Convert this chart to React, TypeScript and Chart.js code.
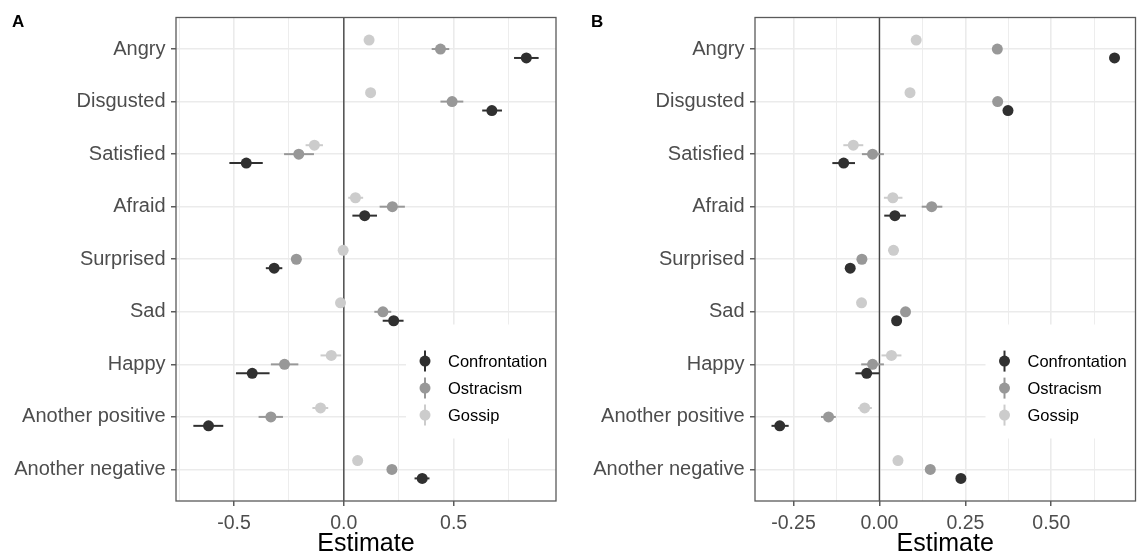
import React, { useEffect, useRef } from "react";
import { Chart, registerables } from "chart.js";

Chart.register(...registerables);

const FONT = "'Liberation Sans', Arial, Helvetica, sans-serif";
Chart.defaults.font.family = FONT;

// ---------- data ----------
const categories = [
  "Angry",
  "Disgusted",
  "Satisfied",
  "Afraid",
  "Surprised",
  "Sad",
  "Happy",
  "Another positive",
  "Another negative",
];
const seriesNames = ["Confrontation", "Ostracism", "Gossip"];
const seriesColors = ["#303030", "#989898", "#CCCCCC"];
const dodgeOffsets = [0.17, 0, -0.17];

// Panel A
const confA = [0.831, 0.674, -0.444, 0.095, -0.317, 0.227, -0.417, -0.616, 0.357];
const confALo = [0.775, 0.63, -0.521, 0.039, -0.355, 0.177, -0.491, -0.685, 0.322];
const confAHi = [0.887, 0.72, -0.369, 0.151, -0.28, 0.272, -0.338, -0.549, 0.39];
const ostA = [0.44, 0.493, -0.205, 0.221, -0.216, 0.178, -0.27, -0.332, 0.219];
const ostALo = [0.4, 0.44, -0.272, 0.163, -0.235, 0.139, -0.332, -0.388, 0.205];
const ostAHi = [0.48, 0.544, -0.136, 0.278, -0.197, 0.216, -0.207, -0.277, 0.233];
const gosA = [0.115, 0.122, -0.134, 0.053, -0.003, -0.015, -0.057, -0.106, 0.063];
const gosALo = [0.105, 0.112, -0.174, 0.02, -0.013, -0.025, -0.106, -0.143, 0.053];
const gosAHi = [0.125, 0.132, -0.095, 0.088, 0.007, -0.005, -0.012, -0.071, 0.073];

// Panel B
const confB = [0.684, 0.374, -0.104, 0.045, -0.085, 0.05, -0.037, -0.29, 0.237];
const confBLo = [0.674, 0.364, -0.137, 0.014, -0.095, 0.04, -0.07, -0.314, 0.227];
const confBHi = [0.694, 0.384, -0.071, 0.077, -0.075, 0.06, -0.001, -0.264, 0.247];
const ostB = [0.343, 0.344, -0.02, 0.152, -0.051, 0.076, -0.02, -0.148, 0.148];
const ostBLo = [0.335, 0.336, -0.051, 0.123, -0.059, 0.068, -0.053, -0.17, 0.14];
const ostBHi = [0.351, 0.352, 0.013, 0.183, -0.043, 0.084, 0.013, -0.127, 0.156];
const gosB = [0.107, 0.089, -0.076, 0.039, 0.041, -0.052, 0.035, -0.043, 0.054];
const gosBLo = [0.099, 0.081, -0.105, 0.013, 0.033, -0.06, 0.006, -0.062, 0.046];
const gosBHi = [0.115, 0.097, -0.047, 0.067, 0.049, -0.044, 0.064, -0.022, 0.062];

// Axis ticks
const majorTicksA = [-0.5, 0, 0.5];
const majorLabelsA = ["-0.5", "0.0", "0.5"];
const minorTicksA = [-0.75, -0.25, 0.25, 0.75];
const majorTicksB = [-0.25, 0, 0.25, 0.5];
const majorLabelsB = ["-0.25", "0.00", "0.25", "0.50"];
const minorTicksB = [-0.125, 0.125, 0.375, 0.625];

// ---------- plugins ----------
const near = (a: number, b: number) => Math.abs(a - b) < 1e-6;

const panelPlugin = {
  id: "panelDeco",
  beforeDatasetsDraw(chart: any, _args: any, opts: any) {
    const { ctx, chartArea } = chart;
    const xs = chart.scales.x;
    const ys = chart.scales.y;
    ctx.save();
    // legend background
    ctx.fillStyle = "#ffffff";
    ctx.fillRect(
      chartArea.right + opts.boxLeft,
      chartArea.top + opts.boxTop,
      -opts.boxLeft,
      opts.boxBottom - opts.boxTop
    );
    // zero line
    const x0 = xs.getPixelForValue(0);
    ctx.strokeStyle = "#444444";
    ctx.lineWidth = 1.4;
    ctx.beginPath();
    ctx.moveTo(x0, chartArea.top);
    ctx.lineTo(x0, chartArea.bottom);
    ctx.stroke();
    // error bars
    chart.data.datasets.forEach((ds: any) => {
      ctx.strokeStyle = ds.backgroundColor;
      ctx.lineWidth = 2;
      ds.data.forEach((p: any, j: number) => {
        const y = ys.getPixelForValue(p.y);
        ctx.beginPath();
        ctx.moveTo(xs.getPixelForValue(ds.lo[j]), y);
        ctx.lineTo(xs.getPixelForValue(ds.hi[j]), y);
        ctx.stroke();
      });
    });
    ctx.restore();
  },
  afterDatasetsDraw(chart: any, _args: any, opts: any) {
    const { ctx, chartArea } = chart;
    ctx.save();
    chart.data.datasets.forEach((ds: any, i: number) => {
      const cx = chartArea.right + opts.symbolX;
      const cy = chartArea.top + opts.firstY + i * opts.spacing;
      ctx.strokeStyle = ds.backgroundColor;
      ctx.lineWidth = 2;
      ctx.beginPath();
      ctx.moveTo(cx, cy - 10.5);
      ctx.lineTo(cx, cy + 10.5);
      ctx.stroke();
      ctx.fillStyle = ds.backgroundColor;
      ctx.beginPath();
      ctx.arc(cx, cy, 5.5, 0, Math.PI * 2);
      ctx.fill();
      ctx.fillStyle = "#000000";
      ctx.font = `16.5px ${FONT}`;
      ctx.textAlign = "left";
      ctx.textBaseline = "middle";
      ctx.fillText(ds.label, chartArea.right + opts.textX, cy + 1);
    });
    ctx.restore();
  },
  afterDraw(chart: any, _args: any, opts: any) {
    const { ctx, chartArea } = chart;
    ctx.save();
    ctx.strokeStyle = "#5a5a5a";
    ctx.lineWidth = 1.3;
    ctx.strokeRect(
      chartArea.left,
      chartArea.top,
      chartArea.right - chartArea.left,
      chartArea.bottom - chartArea.top
    );
    ctx.fillStyle = "#000000";
    ctx.font = `bold 17px ${FONT}`;
    ctx.textAlign = "left";
    ctx.textBaseline = "alphabetic";
    ctx.fillText(opts.panelLabel, opts.labelX, 27);
    ctx.restore();
  },
};

type PanelProps = {
  panelLabel: string;
  labelX: number;
  values: number[][];
  lows: number[][];
  highs: number[][];
  xMin: number;
  xMax: number;
  majorTicks: number[];
  majorLabels: string[];
  minorTicks: number[];
  yAxisWidth: number;
  padRight: number;
  width: number;
  left: number;
};

function Panel(props: PanelProps) {
  const ref = useRef<HTMLCanvasElement | null>(null);
  useEffect(() => {
    if (!ref.current) return;
    const { values, lows, highs, majorTicks, majorLabels, minorTicks } = props;
    const allTicks = [...majorTicks, ...minorTicks].sort((a, b) => a - b);
    const isMajor = (v: number) => majorTicks.some((m) => near(m, v));
    const datasets = seriesNames.map((name, s) => ({
      label: name,
      data: categories.map((_, j) => ({ x: values[s][j], y: j + 1 + dodgeOffsets[s] })),
      lo: lows[s],
      hi: highs[s],
      backgroundColor: seriesColors[s],
      borderColor: seriesColors[s],
      borderWidth: 0,
      pointRadius: 5.5,
      pointHoverRadius: 5.5,
    }));
    const chart = new Chart(ref.current, {
      type: "scatter",
      data: { datasets } as any,
      plugins: [panelPlugin as any],
      options: {
        animation: false,
        responsive: false,
        devicePixelRatio: 1,
        layout: { padding: { top: 16, right: props.padRight, left: 0, bottom: 0 } },
        plugins: {
          legend: { display: false },
          tooltip: { enabled: false },
          panelDeco: {
            panelLabel: props.panelLabel,
            labelX: props.labelX,
            symbolX: -131,
            textX: -108,
            firstY: 343.6,
            spacing: 27,
            boxLeft: -150,
            boxTop: 307,
            boxBottom: 421,
          },
        } as any,
        scales: {
          x: {
            type: "linear",
            min: props.xMin,
            max: props.xMax,
            afterBuildTicks: (s: any) => {
              s.ticks = allTicks.map((v) => ({ value: v }));
            },
            ticks: {
              autoSkip: false,
              maxRotation: 0,
              color: "#4D4D4D",
              font: { size: 19.5 },
              padding: 6,
              callback: (v: any) => {
                const i = majorTicks.findIndex((m) => near(m, Number(v)));
                return i >= 0 ? majorLabels[i] : "";
              },
            },
            grid: {
              color: "#EBEBEB",
              lineWidth: (c: any) => (c.tick && isMajor(c.tick.value) ? 1.6 : 0.9),
              tickColor: (c: any) =>
                c.tick && isMajor(c.tick.value) ? "#333333" : "rgba(0,0,0,0)",
              tickLength: 5,
              tickWidth: 1.2,
            },
            border: { display: false },
            title: {
              display: true,
              text: "Estimate",
              color: "#000000",
              font: { size: 25, lineHeight: 1 },
              padding: { top: 0, bottom: -1 },
            },
            afterFit: (s: any) => {
              s.height = 55;
            },
          },
          y: {
            type: "linear",
            reverse: true,
            min: 0.4,
            max: 9.6,
            afterBuildTicks: (s: any) => {
              s.ticks = categories.map((_, i) => ({ value: i + 1 }));
            },
            ticks: {
              autoSkip: false,
              color: "#4D4D4D",
              font: { size: 20 },
              padding: 5.5,
              callback: (v: any) => categories[Math.round(Number(v)) - 1] ?? "",
            },
            grid: {
              color: "#EBEBEB",
              lineWidth: 1.6,
              tickColor: "#333333",
              tickLength: 5,
              tickWidth: 1.2,
            },
            border: { display: false },
            afterFit: (s: any) => {
              s.width = props.yAxisWidth;
            },
          },
        },
      } as any,
    });
    return () => chart.destroy();
  }, []);
  return (
    <canvas
      ref={ref}
      width={props.width}
      height={556}
      style={{ position: "absolute", left: props.left, top: 0, width: props.width, height: 556 }}
    />
  );
}

export default function App() {
  return (
    <div
      style={{
        position: "fixed",
        left: 0,
        top: 0,
        width: 1141,
        height: 556,
        background: "#ffffff",
        overflow: "hidden",
      }}
    >
      <Panel
        panelLabel="A"
        labelX={12}
        values={[confA, ostA, gosA]}
        lows={[confALo, ostALo, gosALo]}
        highs={[confAHi, ostAHi, gosAHi]}
        xMin={-0.764}
        xMax={0.966}
        majorTicks={majorTicksA}
        majorLabels={majorLabelsA}
        minorTicks={minorTicksA}
        yAxisWidth={176}
        padRight={14}
        width={570}
        left={0}
      />
      <Panel
        panelLabel="B"
        labelX={21}
        values={[confB, ostB, gosB]}
        lows={[confBLo, ostBLo, gosBLo]}
        highs={[confBHi, ostBHi, gosBHi]}
        xMin={-0.362}
        xMax={0.745}
        majorTicks={majorTicksB}
        majorLabels={majorLabelsB}
        minorTicks={minorTicksB}
        yAxisWidth={185}
        padRight={5}
        width={571}
        left={570}
      />
    </div>
  );
}
